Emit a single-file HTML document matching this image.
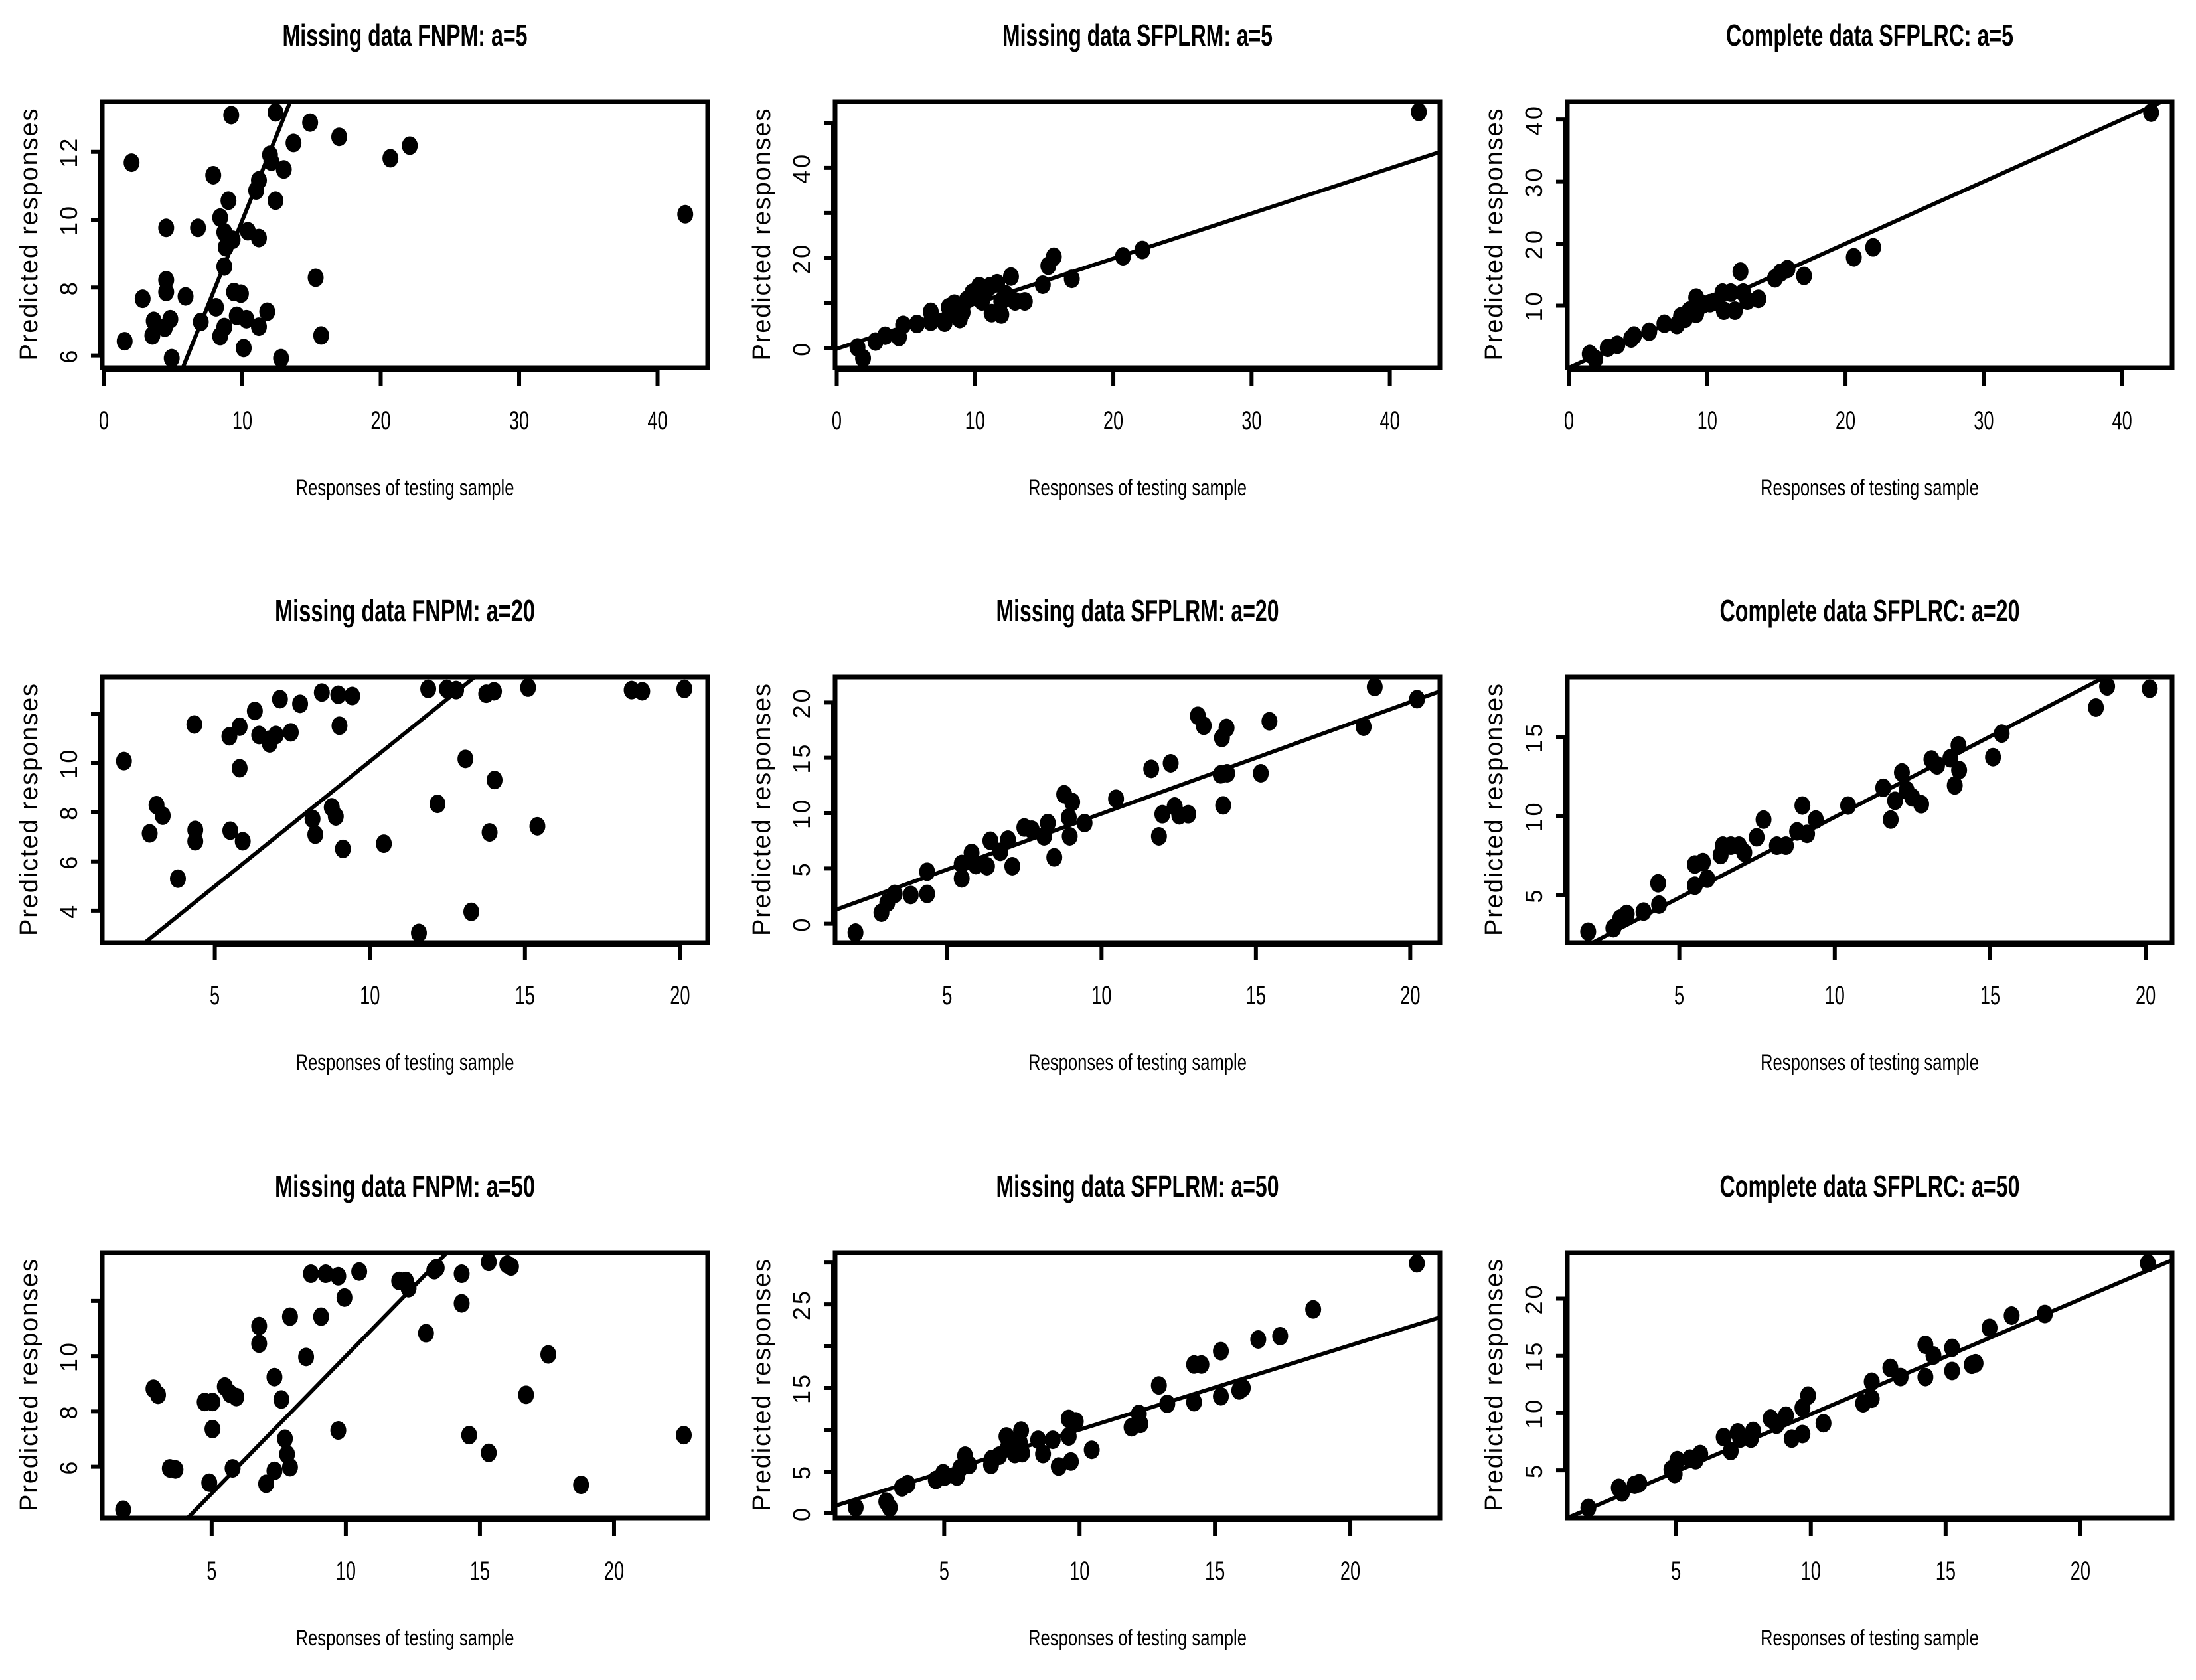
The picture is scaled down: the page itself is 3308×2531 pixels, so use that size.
<!DOCTYPE html>
<html><head><meta charset="utf-8"><style>
html,body{margin:0;padding:0;background:#fff}
svg{display:block}
text{font-family:"Liberation Sans",sans-serif;fill:#000}
</style></head><body>
<svg id="fig" width="3308" height="2531" viewBox="0 0 3308 2531" xmlns="http://www.w3.org/2000/svg"></svg>
<script>
// ---- data ----
const titles = ["Missing data FNPM: a=5","Missing data SFPLRM: a=5","Complete data SFPLRC: a=5",
"Missing data FNPM: a=20","Missing data SFPLRM: a=20","Complete data SFPLRC: a=20",
"Missing data FNPM: a=50","Missing data SFPLRM: a=50","Complete data SFPLRC: a=50"];
const titleWidths = [369,407,433,392,426,452,392,426,452];
const p1x=[2.0,1.5,2.8,3.6,3.5,4.5,4.5,4.5,4.8,4.4,4.9,5.9,6.8,7.0,7.9,8.1,8.4,9.0,8.7,8.8,8.7,9.3,9.2,9.4,9.9,9.6,8.7,8.4,10.1,10.4,10.3,11.2,11.0,11.2,11.2,11.8,12.0,12.1,12.4,12.4,12.8,13.0,13.7,14.9,15.3,15.7,17.0,20.7,22.1,42.0];
const p1y=[11.68,6.42,7.67,7.02,6.59,9.76,8.22,7.87,7.07,6.82,5.92,7.74,9.76,6.99,11.31,7.42,10.06,10.56,9.63,9.19,8.62,9.41,13.08,7.87,7.82,7.17,6.84,6.57,6.22,9.66,7.07,11.16,10.86,9.46,6.85,7.29,11.91,11.71,10.56,13.16,5.92,11.48,12.26,12.86,8.29,6.59,12.44,11.81,12.18,10.16];
const p2x=[1.5,1.9,2.8,3.5,4.5,4.8,5.8,6.8,6.8,7.8,8.1,8.5,8.9,8.9,9.4,9.8,10.3,10.5,11.1,11.2,11.6,11.9,11.9,12.6,12.9,13.6,14.9,15.3,15.7,17.0,20.7,22.1,42.1,8.3,9.1,10.0,10.8,12.2];
const p2y=[0.2,-2.2,1.5,2.8,2.5,5.2,5.4,5.9,8.1,5.7,9.1,9.9,6.5,9.1,10.7,12.3,13.8,10.4,13.8,7.8,14.4,7.5,10.4,15.9,10.4,10.4,14.1,18.3,20.3,15.4,20.4,21.8,52.4,7.6,8.0,11.5,12.8,12.0];
const p3x=[1.5,1.9,2.8,3.5,4.5,4.7,5.8,6.9,7.8,8.1,8.4,8.7,9.2,9.2,9.7,10.2,10.5,11.1,11.2,11.7,12.0,12.4,12.6,12.9,13.7,14.9,15.3,15.8,17.0,20.6,22.0,42.1];
const p3y=[2.2,1.4,3.2,3.7,4.7,5.2,5.8,7.1,6.9,8.3,7.9,9.2,11.3,8.7,10.2,10.4,10.6,12.1,9.2,12.1,9.2,15.5,12.1,10.8,11.1,14.4,15.3,15.9,14.8,17.8,19.4,41.1];
const p4x=[2.07,2.9,3.12,3.32,3.81,4.34,4.37,4.37,5.47,5.5,5.8,5.8,5.9,6.29,6.43,6.74,6.77,6.97,7.1,7.45,7.75,8.15,8.24,8.45,8.77,8.9,8.98,9.02,9.13,9.43,10.45,11.58,11.88,12.18,12.48,12.78,13.08,13.27,13.75,13.86,14.0,14.02,15.1,15.4,18.44,18.78,20.14];
const p4y=[10.08,7.14,8.29,7.86,5.30,11.57,7.28,6.82,11.09,7.25,11.48,9.79,6.82,12.12,11.14,10.95,10.80,11.14,12.6,11.25,12.41,7.73,7.09,12.87,8.2,7.83,12.78,11.52,6.51,12.73,6.72,3.09,13.02,8.34,13.02,12.97,10.17,3.95,12.82,7.18,12.92,9.31,13.07,7.43,12.97,12.92,13.02];
const p5x=[2.03,2.87,3.06,3.3,3.82,4.35,4.35,5.47,5.47,5.74,5.79,5.93,6.29,6.4,6.72,6.97,7.11,7.5,7.74,8.14,8.26,8.47,8.79,8.94,8.97,9.05,9.45,10.47,11.61,11.86,11.97,12.24,12.37,12.52,12.81,13.12,13.31,13.9,13.94,13.86,14.07,14.05,15.16,15.44,18.49,18.85,20.22];
const p5y=[-0.8,1.0,1.9,2.7,2.6,2.7,4.7,4.1,5.4,5.7,6.4,5.3,5.2,7.5,6.5,7.6,5.2,8.7,8.5,7.9,9.1,6.0,11.7,9.6,7.9,11.0,9.1,11.3,14.0,7.9,9.9,14.5,10.6,9.8,9.9,18.8,17.9,16.8,10.7,13.5,13.6,17.7,13.6,18.3,17.8,21.4,20.3];
const p6x=[2.07,2.88,3.1,3.31,3.85,4.32,4.35,5.5,5.5,5.76,5.9,6.33,6.4,6.66,6.92,7.09,7.49,7.71,8.14,8.43,8.79,8.96,9.11,9.39,10.43,11.56,11.8,11.94,12.16,12.31,12.49,12.78,13.11,13.29,13.72,13.86,13.98,14.0,15.09,15.37,18.4,18.76,20.13];
const p6y=[2.69,2.91,3.51,3.81,3.96,5.75,4.4,5.6,6.94,7.09,6.04,7.54,8.13,8.13,8.13,7.69,8.66,9.78,8.13,8.13,9.03,10.67,8.88,9.78,10.67,11.79,9.78,10.97,12.76,11.64,11.19,10.75,13.58,13.21,13.66,11.94,14.48,12.91,13.73,15.22,16.87,18.21,18.06];
const p7x=[1.7,2.83,3.0,3.44,3.65,4.74,5.03,5.03,4.91,5.49,5.69,5.92,5.78,6.77,6.77,7.03,7.34,7.34,7.6,7.73,7.81,7.92,7.92,8.52,8.7,9.08,9.25,9.72,9.72,9.95,10.5,11.99,12.24,12.34,12.99,13.3,13.39,14.32,14.32,14.6,15.33,15.33,16.02,16.16,16.72,17.55,18.77,22.6];
const p7y=[4.44,8.82,8.6,5.94,5.9,8.34,8.34,7.36,5.42,8.9,8.64,8.52,5.94,11.09,10.45,5.38,9.24,5.85,8.43,7.01,6.45,5.98,11.43,9.97,12.98,11.43,12.98,12.89,7.31,12.12,13.06,12.72,12.72,12.46,10.83,13.11,13.19,12.98,11.91,7.14,13.41,6.5,13.32,13.24,8.6,10.06,5.34,7.14];
const p8x=[1.73,2.86,2.99,3.44,3.65,4.69,4.96,5.02,5.47,5.59,5.77,5.92,6.73,6.76,7.03,7.3,7.34,7.61,7.84,7.88,7.79,8.47,8.65,9.01,9.23,9.6,9.6,9.68,9.86,10.45,11.92,12.19,12.25,12.93,13.24,14.23,14.23,14.5,15.22,15.22,15.9,16.03,16.6,17.41,18.63,22.46];
const p8y=[0.7,1.4,0.7,3.1,3.5,4.0,4.8,4.4,4.4,5.4,6.9,5.8,5.8,6.5,6.9,9.2,7.8,7.1,9.9,7.2,8.5,8.8,7.1,8.8,5.6,9.2,11.3,6.2,11.0,7.6,10.3,11.9,10.7,15.3,13.1,13.3,17.8,17.8,14.0,19.4,14.7,15.0,20.8,21.2,24.4,29.9];
const p9x=[1.75,2.88,3.0,3.47,3.64,4.83,4.95,5.05,5.52,5.73,5.9,6.77,7.03,7.29,7.38,7.86,7.78,8.51,8.73,9.08,9.29,9.69,9.69,9.9,10.47,11.94,12.26,12.26,12.95,13.33,14.25,14.25,14.55,15.24,15.24,15.97,16.11,16.63,17.45,18.68,22.5];
const p9y=[1.72,3.47,3.06,3.74,3.87,5.08,4.68,5.89,6.02,5.89,6.42,7.9,6.69,8.31,7.77,8.44,7.77,9.52,8.98,9.78,7.77,8.17,10.46,11.53,9.11,10.86,12.74,11.26,13.95,13.15,15.97,13.15,15.03,15.7,13.68,14.22,14.35,17.45,18.52,18.66,23.09];
const xsAll=[p1x,p2x,p3x,p4x,p5x,p6x,p7x,p8x,p9x];
const ysAll=[p1y,p2y,p3y,p4y,p5y,p6y,p7y,p8y,p9y];
const fitIntercepts=[-0.12,-0.1,0,-0.09,-0.14,-0.26,0.06,-0.08,-0.14];
const fitSlopes=[1.01,1.0,1.0,1.016,1.009,1.02,0.994,1.009,1.0045];
const xLims=[[-0.12,43.62],[-0.12,43.62],[-0.12,43.62],[1.37,20.89],[1.37,20.96],[1.4,20.85],[0.92,23.49],[0.97,23.31],[0.97,23.4]];
const yLims=[[5.64,13.48],[-4.3,54.7],[0,42.9],[2.7,13.5],[-1.7,22.3],[2.0,18.8],[4.14,13.75],[-0.56,31.2],[0.83,24.03]];
const xTicks=[[0,10,20,30,40],[0,10,20,30,40],[0,10,20,30,40],[5,10,15,20],[5,10,15,20],[5,10,15,20],[5,10,15,20],[5,10,15,20],[5,10,15,20]];
const yTicks=[[6,8,10,12],[0,10,20,30,40,50],[10,20,30,40],[4,6,8,10,12],[0,5,10,15,20],[5,10,15],[6,8,10,12],[0,5,10,15,20,25,30],[5,10,15,20]];
const yTickLabels=[["6","8","10","12"],["0","","20","","40",""],["10","20","30","40"],["4","6","8","10",""],["0","5","10","15","20"],["5","10","15"],["6","8","10",""],["0","5","","15","","25",""],["5","10","15","20"]];

// ---- layout ----
const colL=[154,1258,2361], colR=[1066,2169,3272];
const rowT=[153,1020,1887], rowB=[554,1420,2287];
const NS="http://www.w3.org/2000/svg";
const svg=document.getElementById('fig');
function mk(tag,attrs,parent){const e=document.createElementNS(NS,tag);for(const k in attrs)e.setAttribute(k,attrs[k]);(parent||svg).appendChild(e);return e;}

for(let i=0;i<9;i++){
  const r=Math.floor(i/3), c=i%3;
  const L=colL[c], R=colR[c], T=rowT[r], B=rowB[r];
  const xs=v=>L+(v-xLims[i][0])/(xLims[i][1]-xLims[i][0])*(R-L);
  const ys=v=>B-(v-yLims[i][0])/(yLims[i][1]-yLims[i][0])*(B-T);
  const g=mk('g',{});
  
  
  const cp=mk('clipPath',{id:'clip'+i},g);
  mk('rect',{x:L,y:T,width:R-L,height:B-T},cp);
  const t=mk('text',{x:(L+R)/2,y:T-84,'text-anchor':'middle','font-size':46,'font-weight':'bold',textLength:titleWidths[i],lengthAdjust:'spacingAndGlyphs'},g);
  t.textContent=titles[i];
  
  
  // points
  const pg=mk('g',{'clip-path':'url(#clip'+i+')'},g);
  
  
  xsAll[i].forEach((xv,k)=>{
    const p=mk('ellipse',{cx:xs(xv),cy:ys(ysAll[i][k]),rx:12,ry:14,fill:'#000'},pg);
    
    
  });
  // fit line
  const x0=xLims[i][0], x1=xLims[i][1];
  const ln=mk('line',{x1:xs(x0),y1:ys(fitIntercepts[i]+fitSlopes[i]*x0),x2:xs(x1),y2:ys(fitIntercepts[i]+fitSlopes[i]*x1),stroke:'#000','stroke-width':6,'clip-path':'url(#clip'+i+')'},g);
  
  
  // box
  const bx=mk('rect',{x:L,y:T,width:R-L,height:B-T,fill:'none',stroke:'#000','stroke-width':7},g);
  
  
  // x axis
  const xa=mk('g',{},g);
  
  
  const xt=xTicks[i];
  mk('line',{x1:xs(xt[0]),y1:B+3,x2:xs(xt[xt.length-1]),y2:B+3,stroke:'#000','stroke-width':6},xa);
  xt.forEach(v=>{
    mk('line',{x1:xs(v),y1:B,x2:xs(v),y2:B+27,stroke:'#000','stroke-width':6},xa);
    const tl=mk('text',{x:xs(v),y:B+93,'text-anchor':'middle','font-size':40,transform:'translate('+xs(v)+',0) scale(0.68,1) translate('+(-xs(v))+',0)'},xa);
    tl.textContent=String(v);
    
    
  });
  // y axis
  const ya=mk('g',{},g);
  
  
  const yt=yTicks[i];
  mk('line',{x1:L-3,y1:ys(yt[0]),x2:L-3,y2:ys(yt[yt.length-1]),stroke:'#000','stroke-width':6},ya);
  yt.forEach((v,k)=>{
    mk('line',{x1:L-17,y1:ys(v),x2:L,y2:ys(v),stroke:'#000','stroke-width':6},ya);
    if(yTickLabels[i][k]){
      const tl=mk('text',{x:0,y:0,'text-anchor':'middle','font-size':36,'letter-spacing':4,transform:'translate('+(L-38)+','+ys(v)+') rotate(-90)'},ya);
      tl.textContent=yTickLabels[i][k];
      
      
    }
  });
  const yl=mk('text',{x:0,y:0,'text-anchor':'middle','font-size':38,textLength:380,lengthAdjust:'spacing',transform:'translate('+(L-98)+','+((T+B)/2)+') rotate(-90)'},g);
  yl.textContent='Predicted responses';
  
  
  const xl=mk('text',{x:(L+R)/2,y:B+192,'text-anchor':'middle','font-size':34,textLength:329,lengthAdjust:'spacingAndGlyphs'},g);
  xl.textContent='Responses of testing sample';
  
  
}
</script>
</body></html>
